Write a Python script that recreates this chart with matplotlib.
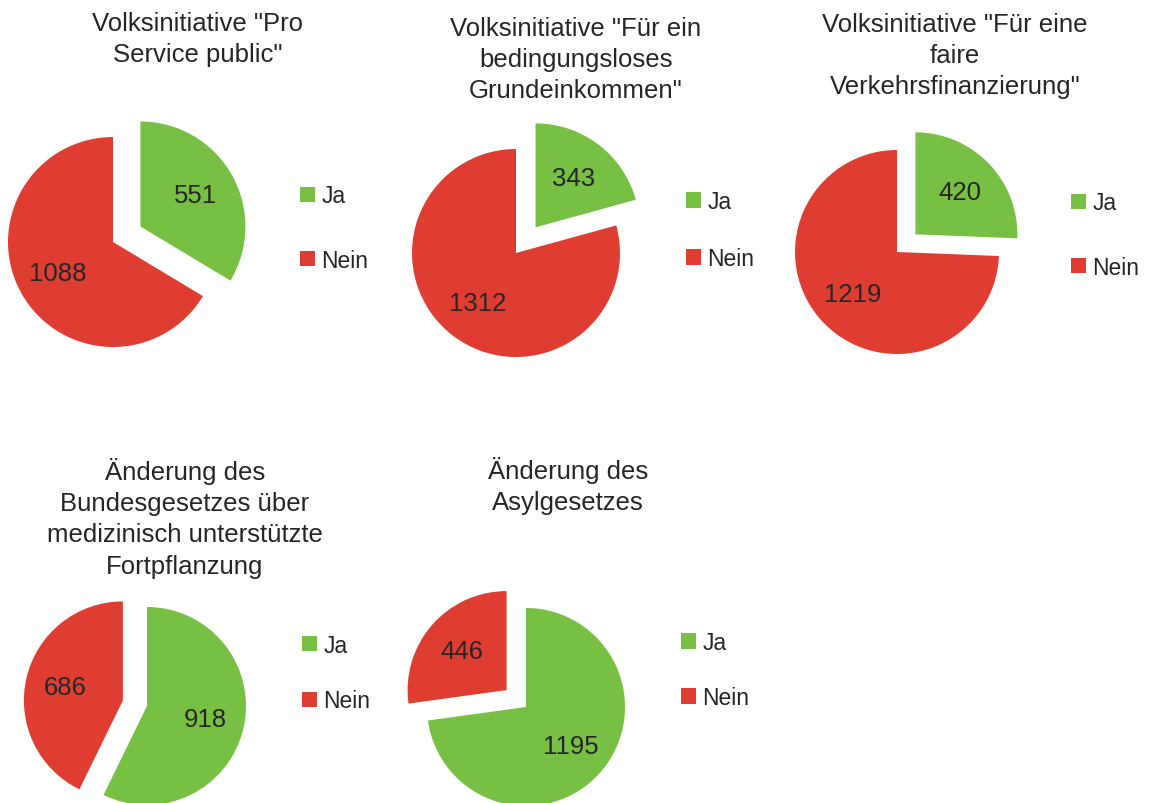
import matplotlib
matplotlib.use("Agg")
import matplotlib.pyplot as plt

plt.rcParams["font.family"] = ["Liberation Sans", "DejaVu Sans"]

# Daten
titles = [
    'Volksinitiative "Pro\nService public"',
    'Volksinitiative "Für ein\nbedingungsloses\nGrundeinkommen"',
    'Volksinitiative "Für eine\nfaire\nVerkehrsfinanzierung"',
    "Änderung des\nBundesgesetzes über\nmedizinisch unterstützte\nFortpflanzung",
    "Änderung des\nAsylgesetzes",
]
categories = ["Ja", "Nein"]
ja = [551, 343, 420, 918, 1195]
nein = [1088, 1312, 1219, 686, 446]

colors = ["#77C044", "#E03D32"]
text_col = "#262626"

W, H = 1150, 804
fig = plt.figure(figsize=(W / 100, H / 100), dpi=100)

# layout in pixels: pie centre, radius, explode, title pos, legend pos
pie_cx = [113, 516, 897, 147, 526]
pie_cy = [243, 254, 253, 707, 708]
pie_r = [105, 104, 102, 99, 99]
explode = [(0.30, 0), (0.31, 0), (0.25, 0), (0, 0.25), (0, 0.26)]
title_x = [198, 576, 955, 185, 568]
title_y = [12, 17, 13, 458, 457]
leg_x = [300, 686, 1071, 302, 681]
leg_y = [229, 231, 236, 674, 671]
leg_sp = [1.8, 1.48, 1.8, 1.43, 1.39]

for i in range(5):
    r = pie_r[i]
    S = 1.5 * r
    ax = fig.add_axes([(pie_cx[i] - S) / W, (H - pie_cy[i] - S) / H, 2 * S / W, 2 * S / H])
    vals = [ja[i], nein[i]]
    wedges, _, autotexts = ax.pie(
        vals, colors=colors, startangle=90, counterclock=False,
        explode=explode[i], radius=1.0, pctdistance=0.6,
        autopct=lambda p, v=vals: "%d" % round(p * sum(v) / 100.0),
        wedgeprops=dict(linewidth=0),
        textprops=dict(fontsize=18.5, color=text_col),
    )
    ax.set_xlim(-1.5, 1.5)
    ax.set_ylim(-1.5, 1.5)
    ax.set_aspect("equal")
    ax.axis("off")

    fig.text(title_x[i] / W, 1 - title_y[i] / H, titles[i], ha="center", va="top",
             fontsize=18.5, color=text_col, linespacing=1.38)

    fig.legend(wedges, categories, loc="center left",
               bbox_to_anchor=(leg_x[i] / W, 1 - leg_y[i] / H),
               bbox_transform=fig.transFigure, frameon=False, borderpad=0,
               borderaxespad=0, handlelength=0.66, handleheight=0.66,
               handletextpad=0.28, labelspacing=leg_sp[i], fontsize=16.5,
               labelcolor=text_col)

fig.savefig("out.png", dpi=100, facecolor="white")
